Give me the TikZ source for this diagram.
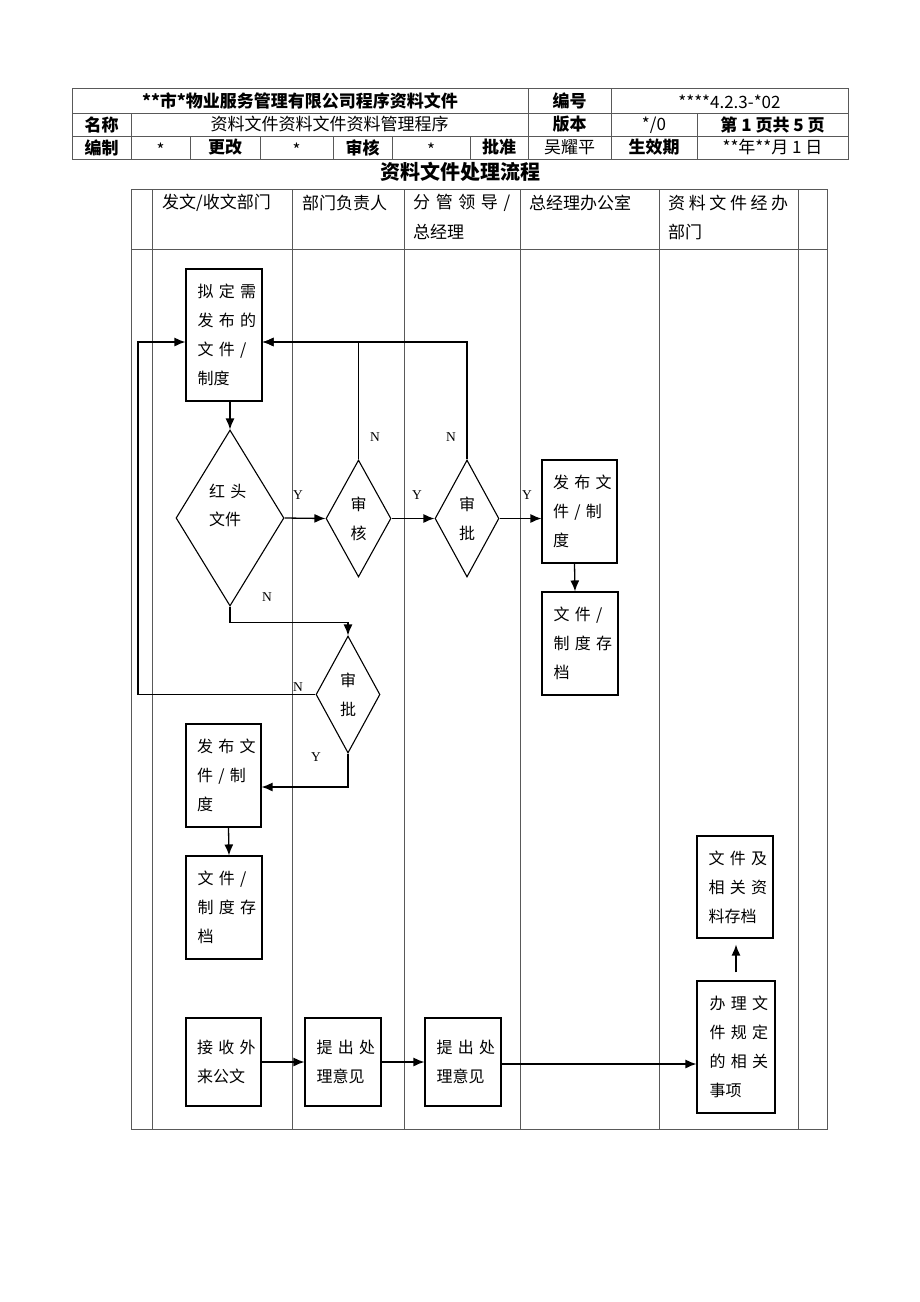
\documentclass[tikz,border=0pt]{standalone}
\usepackage{fontspec}
\setmainfont{Noto Sans CJK SC}
\newfontfamily\ynfont{Liberation Serif}
\usepackage{xcolor}
\usepackage{tikz}
\usetikzlibrary{shapes.geometric,arrows.meta}

\newcommand{\zeile}[2][53pt]{\makebox[#1][s]{#2}}

\begin{document}
\begin{tikzpicture}[x=1pt,y=-1pt,
linie/.style={black!65, line width=0.8pt},
kasten/.style={draw, line width=1.1pt, minimum width=76pt, minimum height=103pt, inner sep=0pt, text width=53pt, align=left, font=\fontsize{16}{29}\selectfont},
raute/.style={diamond, draw, line width=1.1pt, inner sep=0pt, minimum width=64pt, minimum height=117pt, align=center, font=\fontsize{16}{29}\selectfont},
pfeil/.style={line width=1.3pt, -{Latex[length=11pt,width=9pt]}},
yn/.style={font=\ynfont\fontsize{13.5}{13.5}\selectfont, inner sep=0pt},
kopf/.style={font=\bfseries\fontsize{17}{17}\selectfont, inner sep=0pt},
wert/.style={font=\fontsize{17}{17}\selectfont, inner sep=0pt},
spalte/.style={font=\fontsize{17}{17}\selectfont, inner sep=0pt, anchor=west},
]
\useasboundingbox (0,0) rectangle (920,1302);

\draw[linie] (72,88) rectangle (848,159);
\draw[linie] (72,113) -- (848,113) (72,136) -- (848,136);
\draw[linie] (528,88) -- (528,159) (611,88) -- (611,159);
\draw[linie] (131,113) -- (131,159) (697,113) -- (697,159);
\foreach \x in {190,260,333,392,470} \draw[linie] (\x,136) -- (\x,159);

\node[kopf] (firma) at (300,100.5) {**市*物业服务管理有限公司程序资料文件};
\node[kopf] (bianhao) at (569.5,100.5) {编号};
\node[wert] (nummer) at (729.5,101.5) {****4.2.3-*02};
\node[kopf] (mingcheng) at (101.5,124.5) {名称};
\node[wert] (programm) at (329.5,124.5) {资料文件资料文件资料管理程序};
\node[kopf] (banben) at (569.5,124.5) {版本};
\node[wert] (version) at (654,125.5) {*/0};
\node[kopf] (seite) at (772.5,124.5) {第 1 页共 5 页};
\node[kopf] (bianzhi) at (101.5,147.5) {编制};
\node[wert] (stern1) at (160.5,150) {*};
\node[kopf] (genggai) at (225,147.5) {更改};
\node[wert] (stern2) at (296.5,150) {*};
\node[kopf] (shenhekopf) at (362.5,147.5) {审核};
\node[kopf] (pizhun) at (499,147.5) {批准};
\node[wert] (stern3) at (431,150) {*};
\node[wert] (name) at (569.5,147.5) {吴耀平};
\node[kopf] (shengxiao) at (654,147.5) {生效期};
\node[wert] (datum) at (772.5,147.5) {**年**月 1 日};

\node[font=\bfseries\fontsize{20}{20}\selectfont] (titel) at (460,172) {资料文件处理流程};

\draw[linie] (131,189) rectangle (827,1129);
\draw[linie] (131,249) -- (827,249);
\foreach \x in {152,292,404,520,659,798} \draw[linie] (\x,189) -- (\x,1129);

\node[spalte] (sp1) at (162,203) {发文/收文部门};
\node[spalte] (sp2) at (302,203) {部门负责人};
\node[spalte] (sp3) at (413,203) {\zeile[97pt]{分 管 领 导 /}};
\node[spalte] (sp3b) at (413,232) {总经理};
\node[spalte] (sp4) at (529,203) {总经理办公室};
\node[spalte] (sp5) at (668,203) {\zeile[120pt]{资 料 文 件 经 办}};
\node[spalte] (sp5b) at (668,232) {部门};

\node[kasten, minimum height=132pt] (entwurf) at (224,335) {\zeile{拟 定 需}\\\zeile{发 布 的}\\\zeile{文 件 /}\\制度};
\node[raute, minimum width=108pt, minimum height=176pt] (hongtou) at (230,518) {};
\node[inner sep=0pt, text width=42pt, align=left, font=\fontsize{16}{28}\selectfont] (hongtoutext) at (230,505) {\zeile[42pt]{红 头}\\文件};
\node[raute, minimum width=65pt] (shenhe) at (358.5,518.5) {审\\核};
\node[raute] (shenpi) at (467,518.5) {审\\批};
\node[kasten, minimum width=75pt] (fabu2) at (579.5,511.5) {\zeile{发 布 文}\\\zeile{件 / 制}\\度};
\node[kasten] (cundang2) at (580,643.5) {\zeile{文 件 /}\\\zeile{制 度 存}\\档};
\node[raute] (shenpi2) at (348,694.5) {审\\批};
\node[kasten, minimum width=75pt] (fabu1) at (223.5,775.5) {\zeile{发 布 文}\\\zeile{件 / 制}\\度};
\node[kasten] (cundang1) at (224,907.5) {\zeile{文 件 /}\\\zeile{制 度 存}\\档};
\node[kasten, minimum width=75pt, minimum height=88pt] (jieshou) at (223.5,1062) {\zeile{接 收 外}\\来公文};
\node[kasten, minimum height=88pt] (yijian1) at (343,1062) {\zeile{提 出 处}\\理意见};
\node[kasten, minimum height=88pt] (yijian2) at (463,1062) {\zeile{提 出 处}\\理意见};
\node[kasten, minimum width=78pt, minimum height=132pt] (banli) at (736,1047) {\zeile{办 理 文}\\\zeile{件 规 定}\\\zeile{的 相 关}\\事项};
\node[kasten, minimum height=102pt] (ziliao) at (735,887) {\zeile{文 件 及}\\\zeile{相 关 资}\\料存档};

\coordinate (rueck) at (138,342);

\draw[pfeil] (hongtou.north |- entwurf.south) -- (hongtou.north);
\draw[pfeil] (hongtou.east) -- (shenhe.west);
\draw[pfeil] (shenhe.east) -- (shenpi.west);
\draw[pfeil] (shenpi.east) -- (shenpi.east -| fabu2.west);
\draw[pfeil] (shenhe.north) |- ([yshift=-7pt]entwurf.east);
\draw[pfeil] (shenpi.north) |- ([yshift=-7pt]entwurf.east);
\draw[pfeil] ([xshift=-5pt]fabu2.south) -- ([xshift=-5pt]cundang2.north);
\draw[pfeil] (hongtou.south) -- ++(0,16) -| (shenpi2.north);
\draw[pfeil] (shenpi2.west) -| (rueck) -- ([yshift=-7pt]entwurf.west);
\draw[pfeil] (shenpi2.south) |- ([yshift=-11.5pt]fabu1.east);
\draw[pfeil] ([xshift=5pt]fabu1.south) -- ([xshift=5pt]cundang1.north);
\draw[pfeil] (jieshou) -- (yijian1);
\draw[pfeil] (yijian1) -- (yijian2);
\draw[pfeil] ([yshift=-2pt]yijian2.east) -- ([yshift=-2pt]yijian2.east -| banli.west);
\draw[pfeil, shorten <=8pt, shorten >=6pt] (banli.north) -- (banli.north |- ziliao.south);

\node[yn] (y1) at (298,495) {Y};
\node[yn] (y2) at (417,495) {Y};
\node[yn] (y3) at (527,495) {Y};
\node[yn] (y4) at (316,757) {Y};
\node[yn] (n1) at (375,437) {N};
\node[yn] (n2) at (451,437) {N};
\node[yn] (n3) at (267,597) {N};
\node[yn] (n4) at (298,687) {N};

\end{tikzpicture}
\end{document}
